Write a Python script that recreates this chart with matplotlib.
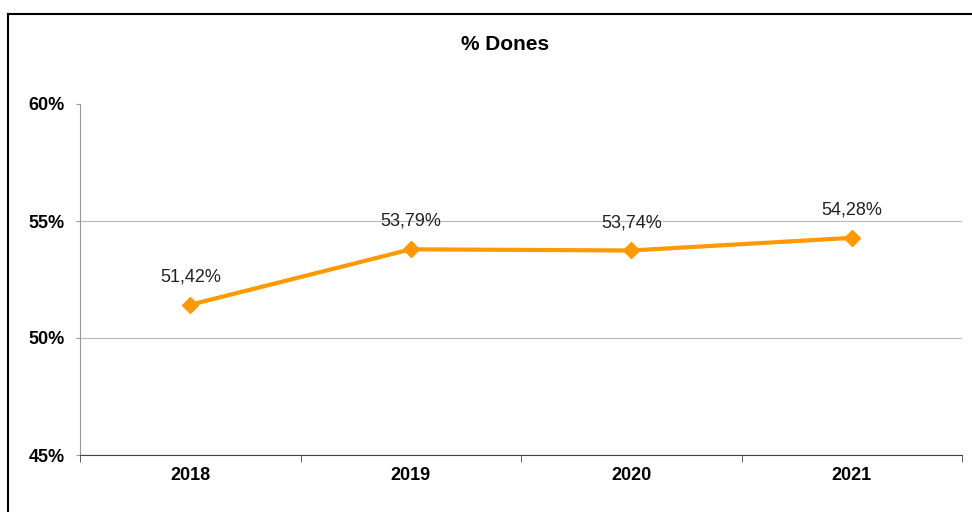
import matplotlib.pyplot as plt
from matplotlib.lines import Line2D
from matplotlib.ticker import FixedLocator, PercentFormatter

plt.rcParams['font.family'] = ['Liberation Sans', 'DejaVu Sans']

years = ['2018', '2019', '2020', '2021']
dones = [51.42, 53.79, 53.74, 54.28]
labels = ['51,42%', '53,79%', '53,74%', '54,28%']

orange = '#FF9900'

fig = plt.figure(figsize=(9.72, 5.12), dpi=100)
ax = fig.add_axes([80 / 972, 57 / 512, 882 / 972, 351 / 512])

x = list(range(len(years)))
ax.plot(x, dones, color=orange, lw=3.0, marker='D', ms=8.5, mec=orange, mfc=orange, zorder=3)
for xi, v, t in zip(x, dones, labels):
    ax.annotate(t, (xi, v), xytext=(0, 14), textcoords='offset points',
                ha='center', va='bottom', fontsize=13, color='#222222')

ax.set_xlim(-0.5, len(years) - 0.5)
ax.set_ylim(45, 60)
ax.set_yticks([45, 50, 55, 60])
ax.yaxis.set_major_formatter(PercentFormatter(decimals=0))
ax.set_xticks(x)
ax.set_xticklabels(years)
ax.xaxis.set_minor_locator(FixedLocator([-0.5, 0.5, 1.5, 2.5, 3.5]))
ax.tick_params(axis='x', which='major', length=0, pad=9, labelsize=13)
ax.tick_params(axis='x', which='minor', length=5, color='#444444', direction='out')
ax.tick_params(axis='y', length=3, color='#999999', pad=8, labelsize=13)
for lab in ax.get_xticklabels() + ax.get_yticklabels():
    lab.set_fontweight('bold')

ax.grid(axis='y', color='#BBBBBB', lw=0.9)
for t in ax.yaxis.get_gridlines()[-1:]:
    t.set_visible(False)
for s in ['top', 'right']:
    ax.spines[s].set_visible(False)
ax.spines['left'].set_color('#999999')
ax.spines['bottom'].set_color('#444444')

fig.text(505 / 972, 1 - 45 / 512, '% Dones', ha='center', va='center',
         fontsize=15, fontweight='bold')

# chart frame, left and top edges
fig.add_artist(Line2D([7.5 / 972, 7.5 / 972], [0, 1 - 13.5 / 512], transform=fig.transFigure,
                      color='black', lw=1.5))
fig.add_artist(Line2D([7.5 / 972, 1], [1 - 13.5 / 512, 1 - 13.5 / 512], transform=fig.transFigure,
                      color='black', lw=1.5))

fig.savefig('out.png', dpi=100)
